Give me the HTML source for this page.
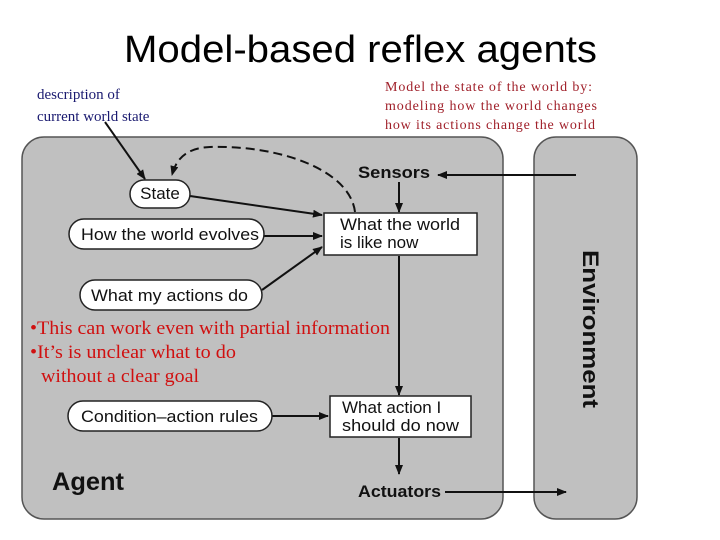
<!DOCTYPE html>
<html><head><meta charset="utf-8"><style>
html,body{margin:0;padding:0;background:#fff;width:720px;height:540px;overflow:hidden}
</style></head><body>
<svg width="720" height="540" viewBox="0 0 720 540" xmlns="http://www.w3.org/2000/svg">
<defs>
<marker id="ah" markerWidth="10" markerHeight="8" refX="9" refY="4" orient="auto" markerUnits="userSpaceOnUse"><path d="M0,0 L10,4 L0,8 z" fill="#111"/></marker>
</defs>
<text x="124" y="62" font-family="Liberation Sans, sans-serif" font-size="38" fill="#000" textLength="473" lengthAdjust="spacingAndGlyphs">Model-based reflex agents</text>
<g font-family="Liberation Serif, serif" font-size="15" fill="#1a1a70">
<text x="37" y="99">description of</text>
<text x="37" y="121">current world state</text>
</g>
<g font-family="Liberation Serif, serif" font-size="14" fill="#a0202a">
<text x="385" y="91" textLength="207">Model the state of the world by:</text>
<text x="385" y="110" textLength="212">modeling how the world changes</text>
<text x="385" y="129" textLength="210">how its actions change the world</text>
</g>
<rect x="22" y="137" width="481" height="382" rx="22" fill="#c0c0c0" stroke="#555" stroke-width="1.5"/>
<rect x="534" y="137" width="103" height="382" rx="22" fill="#c0c0c0" stroke="#555" stroke-width="1.5"/>
<text transform="translate(583,329) rotate(90)" text-anchor="middle" font-family="Liberation Sans, sans-serif" font-weight="bold" font-size="22" fill="#111" textLength="158" lengthAdjust="spacingAndGlyphs">Environment</text>
<g stroke="#111" stroke-width="2" fill="none">
<line x1="576" y1="175" x2="438" y2="175" marker-end="url(#ah)"/>
<line x1="445" y1="492" x2="566" y2="492" marker-end="url(#ah)"/>
<line x1="399" y1="182" x2="399" y2="212" marker-end="url(#ah)"/>
<line x1="399" y1="256" x2="399" y2="395" marker-end="url(#ah)"/>
<line x1="399" y1="438" x2="399" y2="474" marker-end="url(#ah)"/>
<line x1="190" y1="196" x2="322" y2="215" marker-end="url(#ah)"/>
<line x1="264" y1="236" x2="322" y2="236" marker-end="url(#ah)"/>
<line x1="262" y1="290" x2="322" y2="247" marker-end="url(#ah)"/>
<line x1="272" y1="416" x2="328" y2="416" marker-end="url(#ah)"/>
<path d="M355,212 C350,170 280,145 210,147 C185,148 176,160 172,175" stroke-dasharray="9,5" marker-end="url(#ah)"/>
<line x1="105" y1="122" x2="145" y2="179" marker-end="url(#ah)"/>
</g>
<g fill="#fff" stroke="#222" stroke-width="1.5">
<rect x="130" y="180" width="60" height="28" rx="14"/>
<rect x="69" y="219" width="195" height="30" rx="15"/>
<rect x="80" y="280" width="182" height="30" rx="15"/>
<rect x="68" y="401" width="204" height="30" rx="15"/>
<rect x="324" y="213" width="153" height="42"/>
<rect x="330" y="396" width="141" height="41"/>
</g>
<g font-family="Liberation Sans, sans-serif" font-size="17" fill="#111">
<text x="160" y="199" text-anchor="middle">State</text>
<text x="81" y="240" textLength="178" lengthAdjust="spacingAndGlyphs">How the world evolves</text>
<text x="91" y="301" textLength="157" lengthAdjust="spacingAndGlyphs">What my actions do</text>
<text x="81" y="422" textLength="177" lengthAdjust="spacingAndGlyphs">Condition–action rules</text>
<text x="340" y="230" textLength="120" lengthAdjust="spacingAndGlyphs">What the world</text>
<text x="340" y="248">is like now</text>
<text x="342" y="413">What action I</text>
<text x="342" y="431" textLength="117" lengthAdjust="spacingAndGlyphs">should do now</text>
</g>
<g font-family="Liberation Sans, sans-serif" font-weight="bold" fill="#111">
<text x="358" y="178" font-size="17" textLength="72" lengthAdjust="spacingAndGlyphs">Sensors</text>
<text x="358" y="497" font-size="17" textLength="83" lengthAdjust="spacingAndGlyphs">Actuators</text>
<text x="52" y="490" font-size="25" textLength="72" lengthAdjust="spacingAndGlyphs">Agent</text>
</g>
<g font-family="Liberation Serif, serif" font-size="19" fill="#d01010">
<text x="30" y="334" textLength="360" lengthAdjust="spacingAndGlyphs">•This can work even with partial information</text>
<text x="30" y="358" textLength="206" lengthAdjust="spacingAndGlyphs">•It’s is unclear what to do</text>
<text x="41" y="382" textLength="158" lengthAdjust="spacingAndGlyphs">without a clear goal</text>
</g>
</svg>
</body></html>
